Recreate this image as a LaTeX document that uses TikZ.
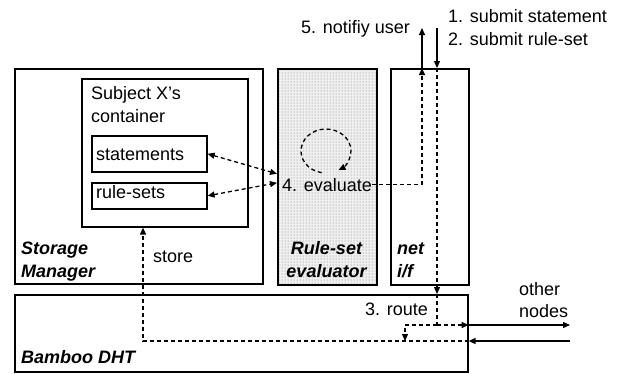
\documentclass[tikz,border=0pt]{standalone}
\usepackage{fontspec}
\setmainfont{Liberation Sans}
\usetikzlibrary{arrows.meta,patterns}

\begin{document}
\begin{tikzpicture}[x=1pt,y=-1pt,
  box/.style={draw, line width=1.6pt, inner sep=0pt, anchor=north west},
  txt/.style={inner sep=0pt, font=\fontsize{18}{23}\selectfont},
  lbl/.style={txt, anchor=base west},
  title/.style={txt, anchor=base west, font=\fontsize{18}{23}\selectfont\bfseries\itshape},
  tip/.style={-{Triangle[length=7pt,width=6pt]}},
  solidline/.style={line width=1.3pt},
  dashline/.style={line width=1.3pt, dash pattern=on 4pt off 3pt},
  sarrow/.style={solidline, tip},
  darrow/.style={dashline, tip},
  dboth/.style={dashline, {Triangle[length=7pt,width=6pt]}-{Triangle[length=7pt,width=6pt]}}]
\useasboundingbox (0,0) rectangle (621,373);

% components
\node[box, minimum width=248pt, minimum height=215pt] (sm) at (14,68) {};
\node[box, minimum width=166pt, minimum height=148pt] (cont) at (81,78) {};
\node[box, minimum width=115pt, minimum height=36pt] (stm) at (91,135) {};
\node[box, minimum width=115pt, minimum height=26pt] (rs) at (91,182) {};
\node[box, minimum width=99pt, minimum height=216pt,
      preaction={fill=black!6}, pattern=dots, pattern color=black!55] (ev) at (277,68) {};
\node[box, minimum width=78pt, minimum height=216pt] (net) at (390,68) {};
\node[box, minimum width=453pt, minimum height=77pt] (dht) at (14,294) {};

% labels
\node[lbl] (contA) at (91,99) {Subject X’s};
\node[lbl] (contB) at (91,122) {container};
\node[lbl] (stmtxt) at (96,160) {statements};
\node[lbl] (rstxt) at (96,198) {rule-sets};
\node[lbl] (store) at (153,262) {store};
\node[title] (smA) at (21,254) {Storage};
\node[title] (smB) at (21,277) {Manager};
\node[title, anchor=base] (evA) at (326.5,254) {Rule-set};
\node[title, anchor=base] (evB) at (326.5,277) {evaluator};
\node[title] (netA) at (397,254) {net};
\node[title] (netB) at (397,277) {i/f};
\node[title] (dhtA) at (21,363) {Bamboo DHT};
\node[lbl] (evtxt) at (282,191) {4. evaluate};
\node[lbl, anchor=base east] (notify) at (410,33) {5. notifiy user};
\node[lbl] (sub1) at (448,22) {1. submit statement};
\node[lbl] (sub2) at (448,45) {2. submit rule-set};
\node[lbl] (route) at (365,315) {3. route};
\node[lbl] (othA) at (519,295) {other};
\node[lbl] (othB) at (519,317) {nodes};

% connection points
\coordinate (nt) at (422,28);
\coordinate (sb) at (437,28);
\coordinate (rt) at (437,325);
\coordinate (br) at (405,325);
\coordinate (bin) at (405,341);
\coordinate (st) at (143,341);
\coordinate (on) at (570,325);
\coordinate (cc) at (326,151);

% user interaction
\draw[sarrow] (nt |- net.north) -- (nt);
\draw[sarrow] (sb) -- (sb |- net.north);

% evaluation flow
\draw[dboth] (stm.east) -- ([yshift=3pt]ev.west);
\draw[dboth] (rs.east) -- ([yshift=-6pt]ev.west);
\draw[darrow] ([shift={(-100:25pt and 22pt)}]cc)
  arc[start angle=-100, end angle=-420, x radius=25pt, y radius=22pt];
\draw[darrow] (evtxt.east) -| (nt |- net.north);

% routing through the DHT
\draw[darrow] (sb |- net.north) -- (sb |- dht.north);
\draw[dashline] (sb |- dht.north) -- (rt);
\draw[darrow] (rt) -- (rt -| dht.east);
\draw[darrow] (rt) -- (br) -- (bin);
\draw[darrow] (st -| dht.east) -- (st) -- (st |- cont.south);

% other nodes
\draw[sarrow] (rt -| dht.east) -- (on);
\draw[sarrow] (on |- st) -- (st -| dht.east);
\end{tikzpicture}
\end{document}
